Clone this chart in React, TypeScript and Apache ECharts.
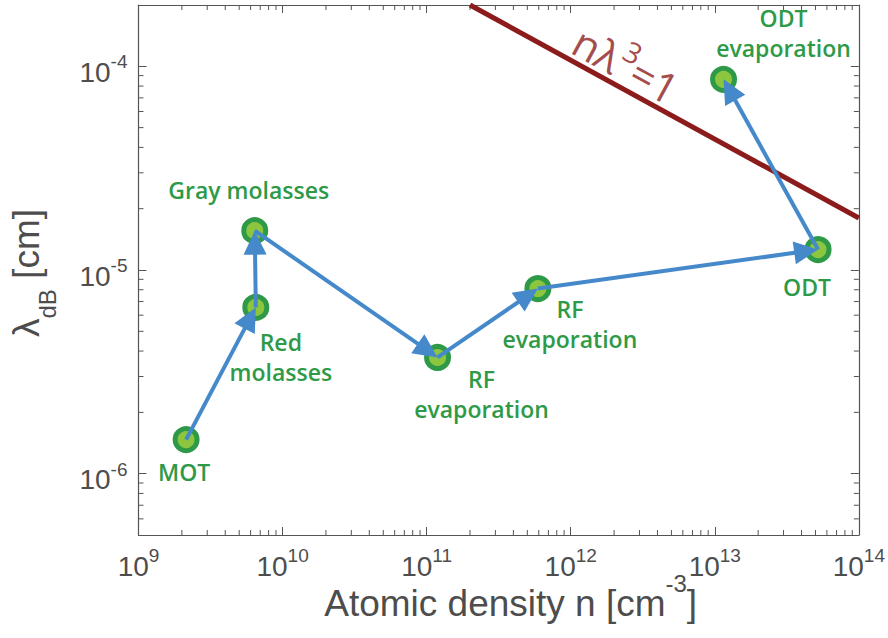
import React, { useEffect, useRef } from 'react';
import * as echarts from 'echarts';

// ---------- data ----------
const STAGE_NAMES = ['MOT', 'Red\nmolasses', 'Gray molasses', 'RF\nevaporation', 'RF\nevaporation', 'ODT', 'ODT\nevaporation'];
const DENSITY = [2.14e9, 6.52e9, 6.41e9, 1.19e11, 5.92e11, 5.21e13, 1.15e13];
const LAMBDA_DB = [1.47e-6, 6.55e-6, 1.56e-5, 3.72e-6, 8.11e-6, 1.26e-5, 8.63e-5];
// path of the sequence (index pairs: from -> to)
const PATH_FROM = [0, 1, 2, 3, 4, 5];
const PATH_TO = [1, 2, 3, 4, 5, 6];
// n*lambda^3 = 1 boundary
const DEGEN_N = [2e11, 1e14];
const DEGEN_LAMBDA = [2e-4, 1.8e-5];
const DEGEN_LABEL_AT = [2.5e12, 1.06e-4];
// axes
const X_MIN = 1e9;
const X_MAX = 1e14;
const Y_MIN = 5e-7;
const Y_MAX = 2e-4;
const X_DECADES = [9, 10, 11, 12, 13];
const Y_DECADES = [-7, -6, -5, -4];
const MINOR_MANTISSAS = [2, 3, 4, 5, 6, 7, 8, 9];

// ---------- layout / style ----------
const LABEL_OFFSETS: [number, number][] = [[-2, 32], [25, 50], [-6, -41], [44, 37], [32, 35], [-11, 37], [60, -46]];
const AXIS_COLOR = '#555555';
const TEXT_COLOR = '#4d4d4d';
const GREEN_DARK = '#2e9a47';
const GREEN_LIGHT = '#8cc63f';
const BLUE = '#4589cb';
const DARK_RED = '#8c1c1c';
const AXIS_FONT = 'Liberation Sans';
const LABEL_FONT = 'Open Sans';
const MINOR_LEN = 5;
const MAJOR_LEN = 8;
const HEAD_LEN = 24;
const HEAD_W = 23;

const X_MINOR: number[] = [];
X_DECADES.forEach((d) => MINOR_MANTISSAS.forEach((m) => X_MINOR.push(m * Math.pow(10, d))));
const Y_MINOR: number[] = [];
Y_DECADES.forEach((d) => MINOR_MANTISSAS.forEach((m) => {
  const v = m * Math.pow(10, d);
  if (v > Y_MIN * 1.001 && v < Y_MAX * 0.999) Y_MINOR.push(v);
}));

const isPow10 = (v: number) => Math.abs(Math.log10(v) - Math.round(Math.log10(v))) < 1e-6;

const tickRich = {
  b: { fontSize: 28, fontFamily: AXIS_FONT, color: TEXT_COLOR, lineHeight: 40, verticalAlign: 'middle' },
  s: { fontSize: 19, fontFamily: AXIS_FONT, color: TEXT_COLOR, lineHeight: 19, verticalAlign: 'top' },
};

const powLabel = (v: number) => (isPow10(v) ? `{b|10}{s|${Math.round(Math.log10(v))}}` : '');

export default function App() {
  const ref = useRef<HTMLDivElement>(null);
  useEffect(() => {
    if (!ref.current) return;
    const chart = echarts.init(ref.current, undefined, { renderer: 'svg' });

    const baseX = {
      type: 'log', logBase: 10, min: X_MIN, max: X_MAX,
      axisLine: { show: true, onZero: false, lineStyle: { color: AXIS_COLOR, width: 1.2 } },
      axisTick: { show: true, inside: true, length: MAJOR_LEN, lineStyle: { color: AXIS_COLOR, width: 1 } },
      splitLine: { show: false },
      minorTick: { show: false },
    };
    const baseY = {
      type: 'log', logBase: 10, min: Y_MIN, max: Y_MAX,
      axisLine: { show: true, onZero: false, lineStyle: { color: AXIS_COLOR, width: 1.2 } },
      axisTick: { show: true, inside: true, length: MAJOR_LEN, lineStyle: { color: AXIS_COLOR, width: 1 } },
      splitLine: { show: false },
      minorTick: { show: false },
    };

    const option: any = {
      animation: false,
      backgroundColor: '#ffffff',
      textStyle: { fontFamily: LABEL_FONT },
      grid: { left: 134, right: 29, top: 5, bottom: 103, containLabel: false },
      xAxis: [
        {
          ...baseX,
          position: 'bottom',
          axisLabel: { show: true, margin: 11, formatter: powLabel, rich: tickRich, fontFamily: AXIS_FONT },
          name: '{a|Atomic density n [cm}{s|-3}{a|]}',
          nameLocation: 'middle',
          nameGap: 36,
          nameMoveOverlap: false,
          nameTextStyle: {
            fontFamily: AXIS_FONT,
            padding: [0, 0, 0, 24],
            rich: {
              a: { fontSize: 37, fontFamily: AXIS_FONT, color: TEXT_COLOR, lineHeight: 64, verticalAlign: 'middle' },
              s: { fontSize: 24, fontFamily: AXIS_FONT, color: TEXT_COLOR, lineHeight: 24, verticalAlign: 'top' },
            },
          },
        },
        { ...baseX, position: 'top', axisLabel: { show: false } },
      ],
      yAxis: [
        {
          ...baseY,
          position: 'left',
          axisLabel: { show: true, margin: 11, formatter: powLabel, rich: tickRich, padding: [12, 0, 0, 0], fontFamily: AXIS_FONT },
          name: '{l|λ}{d|dB}{l| [cm]}',
          nameLocation: 'middle',
          nameGap: 79,
          nameMoveOverlap: false,
          nameTextStyle: {
            fontFamily: AXIS_FONT,
            padding: [0, 6, 0, 0],
            rich: {
              l: { fontSize: 37, fontFamily: AXIS_FONT, color: TEXT_COLOR, lineHeight: 66, verticalAlign: 'middle' },
              d: { fontSize: 24, fontFamily: AXIS_FONT, color: TEXT_COLOR, lineHeight: 24, verticalAlign: 'bottom' },
            },
          },
        },
        { ...baseY, position: 'right', axisLabel: { show: false } },
      ],
      series: [
        {
          type: 'custom',
          name: 'xminor',
          xAxisIndex: 0, yAxisIndex: 0,
          silent: true,
          clip: false,
          z: 1,
          data: X_MINOR.map((v) => [v, 1e-5]),
          renderItem: (params: any, api: any) => {
            const cs = params.coordSys;
            const p = api.coord([api.value(0), api.value(1)]);
            const yb = cs.y + cs.height;
            const yt = cs.y;
            const st = { stroke: AXIS_COLOR, lineWidth: 1 };
            return {
              type: 'group',
              children: [
                { type: 'line', shape: { x1: p[0], y1: yb, x2: p[0], y2: yb - MINOR_LEN }, style: st },
                { type: 'line', shape: { x1: p[0], y1: yt, x2: p[0], y2: yt + MINOR_LEN }, style: st },
              ],
            };
          },
        },
        {
          type: 'custom',
          name: 'yminor',
          xAxisIndex: 0, yAxisIndex: 0,
          silent: true,
          clip: false,
          z: 1,
          data: Y_MINOR.map((v) => [1e10, v]),
          renderItem: (params: any, api: any) => {
            const cs = params.coordSys;
            const p = api.coord([api.value(0), api.value(1)]);
            const xl = cs.x;
            const xr = cs.x + cs.width;
            const st = { stroke: AXIS_COLOR, lineWidth: 1 };
            return {
              type: 'group',
              children: [
                { type: 'line', shape: { x1: xl, y1: p[1], x2: xl + MINOR_LEN, y2: p[1] }, style: st },
                { type: 'line', shape: { x1: xr, y1: p[1], x2: xr - MINOR_LEN, y2: p[1] }, style: st },
              ],
            };
          },
        },
        {
          type: 'line',
          name: 'degeneracy',
          xAxisIndex: 0, yAxisIndex: 0,
          data: DEGEN_N.map((n, i) => [n, DEGEN_LAMBDA[i]]),
          symbol: 'none',
          clip: true,
          silent: true,
          z: 2,
          lineStyle: { color: DARK_RED, width: 5 },
        },
        {
          type: 'scatter',
          name: 'degenLabel',
          xAxisIndex: 0, yAxisIndex: 0,
          data: [DEGEN_LABEL_AT],
          symbolSize: 0,
          silent: true,
          z: 5,
          label: {
            show: true,
            position: 'inside',
            rotate: -28.5,
            formatter: '{a|nλ}{s|3}{a|=1}',
            rich: {
              a: { fontSize: 42, fontFamily: LABEL_FONT, color: DARK_RED, lineHeight: 50, verticalAlign: 'bottom' },
              s: { fontSize: 29, fontFamily: LABEL_FONT, color: DARK_RED, lineHeight: 29, verticalAlign: 'top' },
            },
          },
        },
        {
          type: 'scatter',
          name: 'stages',
          xAxisIndex: 0, yAxisIndex: 0,
          z: 3,
          symbol: 'circle',
          symbolSize: 22,
          itemStyle: { color: GREEN_LIGHT, borderColor: GREEN_DARK, borderWidth: 5, opacity: 1 },
          data: DENSITY.map((n, i) => ({
            value: [n, LAMBDA_DB[i]],
            label: { offset: LABEL_OFFSETS[i] },
          })),
          label: {
            show: true,
            position: 'inside',
            formatter: (p: any) => STAGE_NAMES[p.dataIndex],
            fontFamily: LABEL_FONT,
            fontWeight: 600,
            fontSize: 23,
            lineHeight: 30,
            align: 'center',
            color: GREEN_DARK,
          },
        },
        {
          type: 'custom',
          name: 'arrows',
          xAxisIndex: 0, yAxisIndex: 0,
          silent: true,
          clip: false,
          z: 4,
          encode: { x: [0, 2], y: [1, 3] },
          data: PATH_FROM.map((f, i) => [DENSITY[f], LAMBDA_DB[f], DENSITY[PATH_TO[i]], LAMBDA_DB[PATH_TO[i]]]),
          renderItem: (params: any, api: any) => {
            const a = api.coord([api.value(0), api.value(1)]);
            const b = api.coord([api.value(2), api.value(3)]);
            const dx = b[0] - a[0];
            const dy = b[1] - a[1];
            const L = Math.hypot(dx, dy) || 1;
            const ux = dx / L;
            const uy = dy / L;
            const px = -uy;
            const py = ux;
            const bx = b[0] - ux * HEAD_LEN;
            const by = b[1] - uy * HEAD_LEN;
            return {
              type: 'group',
              children: [
                {
                  type: 'line',
                  shape: { x1: a[0], y1: a[1], x2: bx + ux * 2, y2: by + uy * 2 },
                  style: { stroke: BLUE, lineWidth: 4 },
                },
                {
                  type: 'polygon',
                  shape: {
                    points: [
                      [b[0], b[1]],
                      [bx + px * HEAD_W / 2, by + py * HEAD_W / 2],
                      [bx - px * HEAD_W / 2, by - py * HEAD_W / 2],
                    ],
                  },
                  style: { fill: BLUE },
                },
              ],
            };
          },
        },
      ],
    };

    chart.setOption(option);
    return () => chart.dispose();
  }, []);

  return <div ref={ref} style={{ position: 'absolute', left: 0, top: 0, width: 888, height: 638 }} />;
}
